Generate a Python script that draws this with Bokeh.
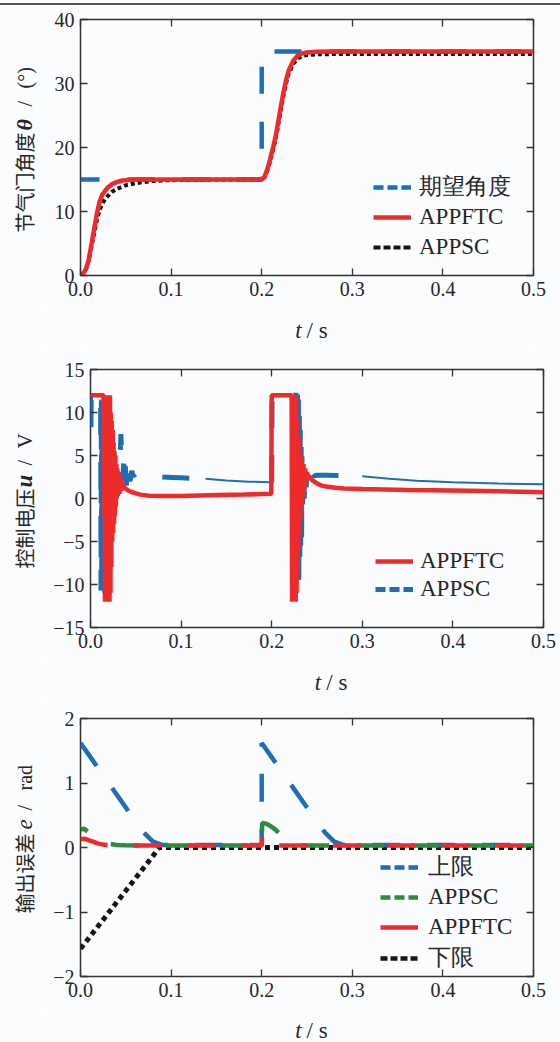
import math
from bokeh.plotting import figure
from bokeh.models import Range1d, FixedTicker, LinearAxis, Label, Legend, LegendItem, Div
from bokeh.layouts import column, row
from bokeh.embed import file_html
from bokeh.resources import INLINE

# ---------------- data ----------------
x_ticks = [0.0, 0.1, 0.2, 0.3, 0.4, 0.5]
x_tick_labels = ["0.0", "0.1", "0.2", "0.3", "0.4", "0.5"]

# panel 1: throttle angle
y1_ticks = [0, 10, 20, 30, 40]
y1_tick_labels = ["0", "10", "20", "30", "40"]
t_des = [0.0, 0.2, 0.2, 0.5]
theta_des = [15, 15, 35, 35]
t_ang = [0, 0.003, 0.006, 0.009, 0.012, 0.015, 0.018, 0.021, 0.024, 0.027, 0.030,
         0.035, 0.040, 0.045, 0.050, 0.060, 0.070, 0.080, 0.090, 0.100, 0.150, 0.200,
         0.203, 0.206, 0.209, 0.212, 0.215, 0.218, 0.221, 0.224, 0.227, 0.230, 0.235,
         0.240, 0.245, 0.250, 0.260, 0.280, 0.300, 0.400, 0.500]
theta_ftc = [0, 0.3, 1.0, 2.4, 4.8, 7.2, 9.6, 11.5, 12.6, 13.2, 13.7,
             14.3, 14.6, 14.8, 14.9, 15.0, 15.0, 15.0, 15.0, 15.0, 15.0, 15.0,
             15.4, 16.5, 18.0, 19.7, 21.5, 23.8, 26.3, 28.6, 30.6, 32.1, 33.6,
             34.4, 34.7, 34.85, 34.95, 35.0, 35.0, 35.0, 35.0]
theta_sc = [0, 0.3, 1.0, 2.3, 4.4, 6.6, 8.6, 10.2, 11.2, 11.9, 12.4,
            13.1, 13.5, 13.8, 14.1, 14.4, 14.6, 14.75, 14.85, 14.9, 14.95, 15.0,
            15.3, 16.3, 17.7, 19.3, 21.1, 23.3, 25.8, 28.1, 30.1, 31.6, 33.1,
            33.9, 34.3, 34.45, 34.55, 34.6, 34.6, 34.6, 34.6]

# panel 2: control voltage
y2_ticks = [-15, -10, -5, 0, 5, 10, 15]
y2_tick_labels = ["\u221215", "\u221210", "\u22125", "0", "5", "10", "15"]
t_u_ftc = [0.0, 0.0145, 0.0150, 0.0155, 0.0160, 0.0165, 0.0170, 0.0175, 0.0180, 0.0185,
           0.0190, 0.0195, 0.0200, 0.0205, 0.0210, 0.0215, 0.0220, 0.0225, 0.0230, 0.0235,
           0.0240, 0.0245, 0.0250, 0.0255, 0.0260, 0.0265, 0.0270, 0.0275, 0.0280, 0.0285,
           0.0290, 0.0295, 0.0300, 0.0310, 0.0320, 0.0330, 0.0340, 0.0350, 0.0360, 0.0380,
           0.0420, 0.0480, 0.0550, 0.0650, 0.0800, 0.1000, 0.1400, 0.1700, 0.1995,
           0.2000, 0.2220, 0.2225, 0.2230, 0.2235, 0.2240, 0.2245, 0.2250, 0.2255, 0.2260,
           0.2265, 0.2270, 0.2275, 0.2280, 0.2285, 0.2290, 0.2295, 0.2300, 0.2305, 0.2310,
           0.2315, 0.2320, 0.2325, 0.2330, 0.2340, 0.2350, 0.2360, 0.2370, 0.2380, 0.2390,
           0.2400, 0.2450, 0.2500, 0.2550, 0.2600, 0.2700, 0.2800, 0.3000, 0.3500, 0.4000,
           0.4500, 0.5000]
u_ftc = [12, 12, -2, 12, -12, 12, -12, 12, -12, 12,
         -12, 12, -12, 12, -12, 12, -11, 10, -8, 9,
         -5, 8, -4, 6.5, -3, 5.5, -2, 5, -1, 4,
         0, 3.5, 0.3, 3, 0.6, 2.4, 0.9, 1.8, 1.5, 1.2,
         0.9, 0.65, 0.45, 0.33, 0.3, 0.3, 0.4, 0.47, 0.55,
         12, 12, -12, 12, -12, 12, -12, 12, -12, 12,
         -12, 12, -11, 9, -8, 7, -6, 7, -4, 5.5,
         -2.5, 5, -1, 4.5, 0, 4, 1, 3.5, 2, 3,
         2.7, 2.1, 1.75, 1.5, 1.4, 1.25, 1.15, 1.1, 1.0, 0.93,
         0.85, 0.72]
t_u_sc_a = [0.0, 0.0004, 0.0008, 0.0112, 0.0116, 0.0120, 0.0124, 0.0128, 0.0132, 0.0136,
            0.0140, 0.0160, 0.0180, 0.0200, 0.0220, 0.0240, 0.0260, 0.0280, 0.0300, 0.0315,
            0.0335, 0.0355, 0.0375, 0.0395, 0.0415, 0.0435, 0.0455, 0.0470, 0.0500, 0.0550,
            0.0600, 0.0700, 0.0800, 0.0900, 0.1000, 0.1100, 0.1200, 0.1270]
u_sc_a = [12, 7, 12, 12, -10.7, 11.7, -10.7, 11.5, -10.5, 11,
          -10, -11, 10, -10, 9, -4, 6, -1, 4, 0.5,
          7.5, 2, 5.5, 1.5, 4.2, 2.0, 3.2, 2.6, 2.85, 2.8,
          2.75, 2.6, 2.5, 2.45, 2.4, 2.35, 2.3, 2.3]
t_u_sc_b = [0.127, 0.150, 0.175, 0.200]
u_sc_b = [2.3, 2.1, 1.95, 1.9]
t_u_sc_c = [0.2000, 0.2004, 0.2285, 0.2290, 0.2295, 0.2300, 0.2305, 0.2310, 0.2315, 0.2320,
            0.2325, 0.2330, 0.2335, 0.2340, 0.2350, 0.2360, 0.2370, 0.2380, 0.2395, 0.2410,
            0.2430, 0.2460, 0.2500, 0.2600, 0.2800, 0.3000]
u_sc_c = [1.9, 12, 12, -10.5, 11.5, -10, 10.5, -8, 8, -5.5,
          6, -4.5, 5.5, -2, 4, 0, 3.5, 1.3, 3.2, 2.0,
          3.0, 2.6, 2.7, 2.7, 2.65, 2.6]
t_u_sc_d = [0.30, 0.33, 0.36, 0.40, 0.45, 0.50]
u_sc_d = [2.6, 2.3, 2.05, 1.9, 1.75, 1.65]

# panel 3: output error
y3_ticks = [-2, -1, 0, 1, 2]
y3_tick_labels = ["\u22122", "\u22121", "0", "1", "2"]
t_up = [0, 0.01, 0.02, 0.03, 0.04, 0.05, 0.06, 0.07, 0.08, 0.09, 0.10, 0.20,
        0.20, 0.21, 0.22, 0.23, 0.24, 0.25, 0.26, 0.27, 0.28, 0.29, 0.30, 0.50]
e_up = [1.62, 1.42, 1.22, 1.02, 0.82, 0.62, 0.42, 0.23, 0.09, 0.04, 0.04, 0.04,
        1.62, 1.42, 1.22, 1.02, 0.82, 0.62, 0.42, 0.23, 0.09, 0.04, 0.04, 0.04]
t_lo = [0, 0.01, 0.02, 0.03, 0.04, 0.05, 0.06, 0.07, 0.08, 0.087, 0.5]
e_lo = [-1.57, -1.39, -1.21, -1.03, -0.85, -0.67, -0.49, -0.31, -0.13, 0.0, 0.0]
t_e_sc = [0, 0.004, 0.008, 0.012, 0.016, 0.020, 0.025, 0.030, 0.040, 0.050, 0.070, 0.100,
          0.150, 0.200, 0.2005, 0.205, 0.210, 0.215, 0.220, 0.225, 0.230, 0.235, 0.240,
          0.250, 0.300, 0.500]
e_sc = [0.28, 0.29, 0.25, 0.20, 0.15, 0.11, 0.08, 0.06, 0.04, 0.035, 0.03, 0.03,
        0.03, 0.03, 0.38, 0.37, 0.33, 0.28, 0.21, 0.15, 0.08, 0.05, 0.035,
        0.03, 0.03, 0.03]
t_e_ftc = [0, 0.004, 0.008, 0.012, 0.016, 0.020, 0.025, 0.030, 0.040, 0.060, 0.100, 0.200,
           0.2005, 0.201, 0.202, 0.204, 0.210, 0.300, 0.500]
e_ftc = [0.13, 0.135, 0.12, 0.10, 0.08, 0.06, 0.045, 0.035, 0.03, 0.03, 0.03, 0.03,
         0.18, 0.15, 0.06, 0.035, 0.03, 0.03, 0.03]

# ---------------- style ----------------
BG = "#fbfcfd"
AX = "#333333"
TXT = "#262626"
SERIF = "Liberation Serif"
CJK = "Noto Sans CJK SC"
BLUE = "#1f6db5"
RED = "#ee2b2b"
GREEN = "#2f8a3d"
BLACK = "#151515"
YL_W = 45          # width of the strip holding the y-axis title
MAIN_W = 560 - YL_W


def text_fig(w, h):
    f = figure(width=w, height=h, x_range=Range1d(0, w), y_range=Range1d(0, h),
               x_axis_type=None, y_axis_type=None, output_backend="svg",
               toolbar_location=None, min_border=0, min_border_left=0,
               min_border_right=0, min_border_top=0, min_border_bottom=0,
               outline_line_color=None, background_fill_color=BG, border_fill_color=BG)
    return f


def make_fig(h, left, right, top, bottom, yr, yt, ytl):
    p = figure(width=MAIN_W, height=h, x_range=Range1d(0, 0.5), y_range=Range1d(*yr),
               output_backend="svg", toolbar_location=None,
               min_border_left=left, min_border_right=right,
               min_border_top=top, min_border_bottom=bottom,
               background_fill_color=BG, border_fill_color=BG,
               outline_line_color=AX, outline_line_width=1.5)
    p.grid.visible = False
    p.extra_x_ranges = {"off": Range1d(100, 101)}
    p.add_layout(LinearAxis(), "above")
    p.add_layout(LinearAxis(), "right")
    for ax in p.xaxis:
        ax.ticker = FixedTicker(ticks=x_ticks)
        ax.major_label_overrides = dict(zip(x_ticks, x_tick_labels))
    for ax in p.yaxis:
        ax.ticker = FixedTicker(ticks=yt)
        ax.major_label_overrides = dict(zip(yt, ytl))
    for ax in p.axis:
        ax.axis_line_color = None
        ax.minor_tick_line_color = None
        ax.major_tick_in = 7
        ax.major_tick_out = 0
        ax.major_tick_line_color = AX
        ax.major_tick_line_width = 1.3
        ax.major_label_text_font = SERIF
        ax.major_label_text_font_size = "20px"
        ax.major_label_text_color = TXT
        ax.major_label_standoff = 6
    for ax in p.above + p.right:
        ax.major_label_text_color = None
        ax.major_label_text_font_size = "1px"
        ax.major_label_standoff = 0
    return p


def add_legend(p, items, x, y, row_h, standoff):
    leg = Legend(items=items, location=(x, y), orientation="vertical",
                 glyph_width=38, glyph_height=row_h, label_height=row_h,
                 label_standoff=standoff, spacing=0, padding=0, margin=0,
                 border_line_color=None, background_fill_alpha=0,
                 label_text_font=SERIF, label_text_font_size="23px",
                 label_text_color=TXT)
    p.add_layout(leg)


def lab(f, x, y, text, font, size, style="normal", angle=0.0):
    f.add_layout(Label(x=x, y=y, text=text, angle=angle, text_font=font,
                       text_font_size=size, text_font_style=style, text_color=TXT,
                       text_align="left", text_baseline="middle"))


def ylabel_fig(h, panel_top, parts):
    f = text_fig(YL_W, h)
    for py, text, font, size, style in parts:
        lab(f, 24, panel_top + h - py, text, font, size, style, angle=math.pi / 2)
    return f


def xlabel_fig(h, fig_top, px_t, py):
    f = text_fig(MAIN_W, h)
    y = h - (py - fig_top)
    lab(f, px_t - YL_W, y, "t", SERIF, "23px", "italic")
    lab(f, px_t - YL_W + 13, y, "/ s", SERIF, "23px")
    return f


# ---------------- top rule ----------------
top_bar = Div(text="", width=560, height=5, margin=(0, 0, 0, 0),
              styles={"border-bottom": "2px solid #555555", "box-sizing": "border-box",
                      "background-color": BG, "display": "block"})

# ---------------- panel 1 ----------------
p1 = make_fig(305, 80 - YL_W, 27, 14, 35, (0, 40), y1_ticks, y1_tick_labels)
p1.line(t_des, theta_des, line_color=BLUE, line_width=4.5, line_dash="27 28", line_dash_offset=8)
p1.line(t_ang, theta_sc, line_color=BLACK, line_width=4, line_dash="4 3")
p1.line(t_ang, theta_ftc, line_color=RED, line_width=4.5)
l1a = p1.line(t_des, theta_des, x_range_name="off", line_color=BLUE, line_width=4.5, line_dash="10 4")
l1b = p1.line(t_ang, theta_ftc, x_range_name="off", line_color=RED, line_width=4.5)
l1c = p1.line(t_ang, theta_sc, x_range_name="off", line_color=BLACK, line_width=4, line_dash="7 3")
add_legend(p1, [LegendItem(label="期望角度", renderers=[l1a]),
                LegendItem(label="APPFTC", renderers=[l1b]),
                LegendItem(label="APPSC", renderers=[l1c])], 293, 13, 30, 8)
yl1 = ylabel_fig(342, 5, [(232, "节气门角度", CJK, "20px", "normal"),
                          (130, "θ", SERIF, "22px", "bold italic"),
                          (106, "/", SERIF, "20px", "normal"),
                          (88, "(°)", SERIF, "20px", "normal")])
xl1 = xlabel_fig(37, 310, 289, 330)

# ---------------- panel 2 ----------------
p2 = make_fig(315, 90 - YL_W, 17, 22, 35, (-15, 15), y2_ticks, y2_tick_labels)
for tt, uu in [(t_u_sc_a, u_sc_a), (t_u_sc_c, u_sc_c)]:
    p2.line(tt, uu, line_color=BLUE, line_width=5, line_dash="27 27")
for tt, uu in [(t_u_sc_b, u_sc_b), (t_u_sc_d, u_sc_d)]:
    p2.line(tt, uu, line_color=BLUE, line_width=2)
p2.line(t_u_ftc, u_ftc, line_color=RED, line_width=4.5)
l2a = p2.line(t_u_ftc, u_ftc, x_range_name="off", line_color=RED, line_width=4.5)
l2b = p2.line(t_u_sc_a, u_sc_a, x_range_name="off", line_color=BLUE, line_width=5, line_dash="10 4")
add_legend(p2, [LegendItem(label="APPFTC", renderers=[l2a]),
                LegendItem(label="APPSC", renderers=[l2b])], 285, 24, 28, 7)
yl2 = ylabel_fig(350, 347, [(568, "控制电压", CJK, "20px", "normal"),
                            (487, "u", SERIF, "23px", "bold italic"),
                            (465, "/", SERIF, "20px", "normal"),
                            (448, "V", SERIF, "21px", "normal")])
xl2 = xlabel_fig(35, 662, 300, 682)

# ---------------- panel 3 ----------------
p3 = make_fig(314, 80 - YL_W, 27, 21, 35, (-2, 2), y3_ticks, y3_tick_labels)
p3.line(t_lo, e_lo, line_color=BLACK, line_width=5, line_dash="5 4")
p3.line(t_up, e_up, line_color=BLUE, line_width=4.5, line_dash="28 27")
p3.line(t_e_sc, e_sc, line_color=GREEN, line_width=4.5, line_dash="28 27", line_dash_offset=20)
p3.line(t_e_ftc, e_ftc, line_color=RED, line_width=4.5, line_dash="28 26")
l3a = p3.line(t_up, e_up, x_range_name="off", line_color=BLUE, line_width=4.5, line_dash="10 4")
l3b = p3.line(t_e_sc, e_sc, x_range_name="off", line_color=GREEN, line_width=4.5, line_dash="10 4")
l3c = p3.line(t_e_ftc, e_ftc, x_range_name="off", line_color=RED, line_width=4.5)
l3d = p3.line(t_lo, e_lo, x_range_name="off", line_color=BLACK, line_width=4.5, line_dash="7 3")
add_legend(p3, [LegendItem(label="上限", renderers=[l3a]),
                LegendItem(label="APPSC", renderers=[l3b]),
                LegendItem(label="APPFTC", renderers=[l3c]),
                LegendItem(label="下限", renderers=[l3d])], 300, 3, 30, 10)
yl3 = ylabel_fig(345, 697, [(913, "输出误差", CJK, "20px", "normal"),
                            (829, "e", SERIF, "23px", "italic"),
                            (810, "/", SERIF, "20px", "normal"),
                            (790, "rad", SERIF, "20px", "normal")])
xl3 = xlabel_fig(31, 1011, 289, 1030)

layout = column(top_bar,
                row(yl1, column(p1, xl1, spacing=0), spacing=0),
                row(yl2, column(p2, xl2, spacing=0), spacing=0),
                row(yl3, column(p3, xl3, spacing=0), spacing=0),
                spacing=0)
open("out.html", "w").write(file_html(layout, INLINE))
